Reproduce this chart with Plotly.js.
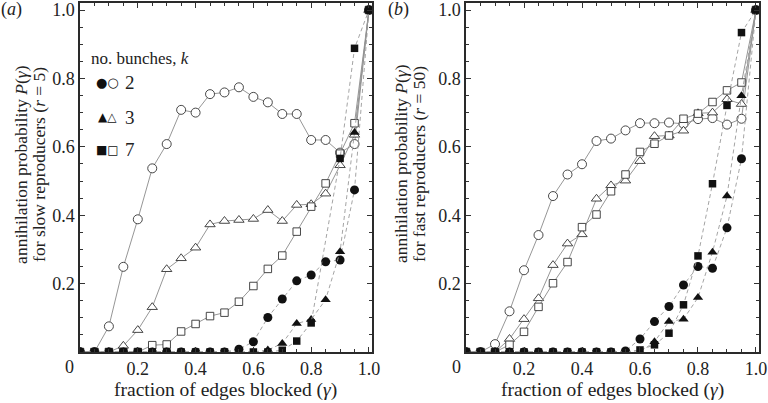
<!DOCTYPE html>
<html>
<head>
<meta charset="utf-8">
<script src="https://cdn.plot.ly/plotly-3.0.1.min.js"></script>
<style>html,body{margin:0;padding:0;background:#fff;}#chart{width:768px;height:403px;}</style>
</head>
<body>
<div id="chart"></div>
<script>
// fraction of edges blocked (gamma)
var gamma = [0, 0.05, 0.1, 0.15, 0.2, 0.25, 0.3, 0.35, 0.4, 0.45, 0.5, 0.55, 0.6, 0.65, 0.7, 0.75, 0.8, 0.85, 0.9, 0.95, 1.0];

// panel (a): slow reproducers (r = 5)
var aOpen2 = [0, 0, 0.075, 0.249, 0.388, 0.537, 0.608, 0.708, 0.700, 0.754, 0.759, 0.774, 0.746, 0.730, 0.696, 0.696, 0.620, 0.620, 0.583, 0.608, 1.0];
var aOpen3 = [0, 0, 0, 0.018, 0.064, 0.131, 0.242, 0.274, 0.305, 0.373, 0.383, 0.386, 0.389, 0.415, 0.383, 0.430, 0.432, 0.463, 0.546, 0.635, 1.0];
var aOpen7 = [0, 0, 0, 0, 0, 0.020, 0.022, 0.060, 0.082, 0.105, 0.115, 0.147, 0.193, 0.243, 0.282, 0.352, 0.425, 0.493, 0.580, 0.669, 1.0];
var aFill2 = [0, 0, 0, 0, 0, 0, 0, 0, 0, 0, 0, 0.008, 0.030, 0.101, 0.155, 0.208, 0.225, 0.264, 0.269, 0.474, 1.0];
var aFill3 = [0, 0, 0, 0, 0, 0, 0, 0, 0, 0, 0, 0, 0, 0.006, 0.025, 0.083, 0.095, 0.153, 0.293, 0.642, 1.0];
var aFill7 = [0, 0, 0, 0, 0, 0, 0, 0, 0, 0, 0, 0, 0, 0, 0.005, 0.032, 0.085, null, 0.566, 0.888, 1.0];

// panel (b): fast reproducers (r = 50)
var bOpen2 = [0, 0, 0.023, 0.119, 0.239, 0.342, 0.456, 0.519, 0.549, 0.617, 0.624, 0.648, 0.669, 0.669, 0.671, 0.667, 0.681, 0.684, 0.665, 0.682, 1.0];
var bOpen3 = [0, 0, 0, 0.038, 0.096, 0.157, 0.254, 0.317, 0.344, 0.448, 0.487, 0.501, 0.558, 0.631, 0.633, 0.647, 0.698, 0.700, 0.739, 0.725, 1.0];
var bOpen7 = [0, 0, 0, 0.021, 0.059, 0.132, 0.201, 0.263, 0.365, 0.402, 0.470, 0.519, 0.585, 0.609, 0.633, 0.682, 0.697, 0.731, 0.765, 0.788, 1.0];
var bFill2 = [0, 0, 0, 0, 0, 0, 0, 0, 0, 0, 0, 0.003, 0.038, 0.089, 0.133, 0.196, 0.250, 0.245, 0.363, 0.565, 1.0];
var bFill3 = [0, 0, 0, 0, 0, 0, 0, 0, 0, 0, 0, 0, 0, 0.030, 0.089, 0.096, 0.159, 0.292, 0.456, 0.749, 1.0];
var bFill7 = [0, 0, 0, 0, 0, 0, 0, 0, 0, 0, 0, 0, 0.006, 0.021, 0.055, 0.138, 0.281, 0.492, 0.721, 0.934, 1.0];

var tickVals = [0.2, 0.4, 0.6, 0.8, 1.0];
var tickText = ['0.2', '0.4', '0.6', '0.8', '1.0'];

var SERIF = '"Liberation Serif", "Times New Roman", serif';
var INK = '#222';

function msize(sym) { return sym === 'square' ? 7.5 : 9; }

function openTrace(y, sym, xa, ya) {
  return {
    x: gamma, y: y, xaxis: xa, yaxis: ya, type: 'scatter', mode: 'lines+markers',
    line: {color: '#8a8a8a', width: 0.9},
    marker: {symbol: sym, size: msize(sym), color: '#fff', line: {color: '#333', width: 0.9}},
    hoverinfo: 'x+y'
  };
}
function fillTrace(y, sym, xa, ya) {
  return {
    x: gamma, y: y, xaxis: xa, yaxis: ya, type: 'scatter', mode: 'lines+markers', connectgaps: true,
    line: {color: '#9a9a9a', width: 0.9, dash: '4px,3px'},
    marker: {symbol: sym, size: msize(sym), color: '#111', line: {width: 0}},
    hoverinfo: 'x+y'
  };
}

var data = [
  openTrace(aOpen2, 'circle', 'x', 'y'),
  openTrace(aOpen3, 'triangle-up', 'x', 'y'),
  openTrace(aOpen7, 'square', 'x', 'y'),
  fillTrace(aFill2, 'circle', 'x', 'y'),
  fillTrace(aFill3, 'triangle-up', 'x', 'y'),
  fillTrace(aFill7, 'square', 'x', 'y'),
  openTrace(bOpen2, 'circle', 'x2', 'y2'),
  openTrace(bOpen3, 'triangle-up', 'x2', 'y2'),
  openTrace(bOpen7, 'square', 'x2', 'y2'),
  fillTrace(bFill2, 'circle', 'x2', 'y2'),
  fillTrace(bFill3, 'triangle-up', 'x2', 'y2'),
  fillTrace(bFill7, 'square', 'x2', 'y2')
];

function axis(extra) {
  var a = {
    showline: true, linecolor: '#2a2a2a', linewidth: 1.6, mirror: 'ticks',
    ticks: 'inside', ticklen: 5, tickwidth: 1, tickcolor: '#333',
    tickmode: 'array', tickvals: tickVals, ticktext: tickText,
    tickfont: {family: SERIF, size: 18, color: INK},
    showgrid: false, zeroline: false, fixedrange: true,
    minor: {dtick: 0.05, tick0: 0, ticks: 'inside', ticklen: 3, tickwidth: 1, tickcolor: '#333', showgrid: false}
  };
  for (var k in extra) a[k] = extra[k];
  return a;
}

function ann(text, x, y, opts) {
  var a = {text: text, x: x, y: y, xref: 'paper', yref: 'paper', showarrow: false,
           xanchor: 'center', yanchor: 'middle', font: {family: SERIF, size: 17.5, color: INK}};
  for (var k in opts) a[k] = opts[k];
  return a;
}

var annotations = [
  ann('(<i>a</i>)', -0.1016, 0.98, {font: {family: SERIF, size: 18, color: INK}}),
  ann('(<i>b</i>)', 0.4698, 0.98, {font: {family: SERIF, size: 18, color: INK}}),
  ann('0', -0.0162, -0.043, {font: {family: SERIF, size: 18, color: INK}}),
  ann('0', 0.555, -0.043, {font: {family: SERIF, size: 18, color: INK}}),
  ann('annihilation probability <i>P</i>(<i>γ</i>)', -0.0869, 0.539, {textangle: -90}),
  ann('for slow reproducers (<i>r</i> = 5)', -0.0604, 0.539, {textangle: -90}),
  ann('annihilation probability <i>P</i>(<i>γ</i>)', 0.4728, 0.539, {textangle: -90}),
  ann('for fast reproducers (<i>r</i> = 50)', 0.4993, 0.539, {textangle: -90}),
  ann('fraction of edges blocked (<i>γ</i>)', 0.215, -0.109, {font: {family: SERIF, size: 19.5, color: INK}}),
  ann('fraction of edges blocked (<i>γ</i>)', 0.784, -0.109, {font: {family: SERIF, size: 19.5, color: INK}}),
  ann('no. bunches, <i>k</i>', 0.0133, 0.842, {xanchor: 'left', font: {family: SERIF, size: 17, color: INK}}),
  ann('●○', 0.0412, 0.771, {font: {family: 'DejaVu Sans', size: 13, color: '#111'}}),
  ann('▲△', 0.0412, 0.673, {font: {family: 'DejaVu Sans', size: 12, color: '#111'}}),
  ann('■□', 0.0412, 0.579, {font: {family: 'DejaVu Sans', size: 12, color: '#111'}}),
  ann('2', 0.0633, 0.771, {xanchor: 'left', font: {family: SERIF, size: 19, color: INK}}),
  ann('3', 0.0633, 0.673, {xanchor: 'left', font: {family: SERIF, size: 19, color: INK}}),
  ann('7', 0.0633, 0.579, {xanchor: 'left', font: {family: SERIF, size: 19, color: INK}})
];

var layout = {
  width: 768, height: 403,
  margin: {l: 80, r: 9, t: 3, b: 51, pad: 0},
  paper_bgcolor: '#fff', plot_bgcolor: '#fff',
  showlegend: false,
  font: {family: SERIF},
  xaxis: axis({domain: [0, 0.430], range: [0, 1.0104], anchor: 'y'}),
  yaxis: axis({domain: [0, 1], range: [0, 1.0205], anchor: 'x'}),
  xaxis2: axis({domain: [0.5685, 1], range: [0, 1.0104], anchor: 'y2'}),
  yaxis2: axis({domain: [0, 1], range: [0, 1.0205], anchor: 'x2'}),
  annotations: annotations
};

Plotly.newPlot('chart', data, layout, {displayModeBar: false, staticPlot: true});
</script>
</body>
</html>
